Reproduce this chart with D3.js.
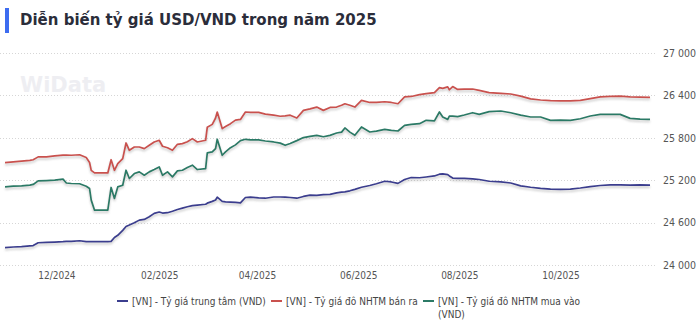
<!DOCTYPE html>
<html>
<head>
<meta charset="utf-8">
<script src="https://cdn.jsdelivr.net/npm/d3@7"></script>
<style>
    body { margin: 0; background: #fff; }
    svg { display: block; }
</style>
</head>
<body>
<div id="chart"></div>
<script>
/****************************/
/******data sets & vars******/
/****************************/
var dates = [
    "2024-10-31","2024-11-05","2024-11-10","2024-11-15","2024-11-17","2024-11-20","2024-11-25","2024-11-30","2024-12-05","2024-12-07",
    "2024-12-10","2024-12-15","2024-12-19","2024-12-21","2024-12-22","2024-12-24","2024-12-27","2025-01-01","2025-01-03","2025-01-05",
    "2025-01-07","2025-01-10","2025-01-12","2025-01-14","2025-01-17","2025-01-20","2025-01-23","2025-01-26","2025-01-29","2025-02-01",
    "2025-02-03","2025-02-06","2025-02-09","2025-02-12","2025-02-15","2025-02-18","2025-02-21","2025-02-24","2025-03-01","2025-03-02",
    "2025-03-05","2025-03-07","2025-03-08","2025-03-11","2025-03-13","2025-03-16","2025-03-19","2025-03-22","2025-03-25","2025-03-28",
    "2025-04-02","2025-04-06","2025-04-11","2025-04-15","2025-04-18","2025-04-21","2025-04-25","2025-04-29","2025-05-03","2025-05-07",
    "2025-05-11","2025-05-15","2025-05-19","2025-05-22","2025-05-24","2025-05-27","2025-05-30","2025-06-03","2025-06-08","2025-06-12",
    "2025-06-17","2025-06-21","2025-06-25","2025-06-29","2025-07-03","2025-07-08","2025-07-12","2025-07-17","2025-07-20","2025-07-22",
    "2025-07-25","2025-07-26","2025-07-28","2025-07-31","2025-08-04","2025-08-09","2025-08-13","2025-08-19","2025-08-26","2025-09-01",
    "2025-09-07","2025-09-13","2025-09-19","2025-09-25","2025-10-01","2025-10-07","2025-10-13","2025-10-19","2025-10-25","2025-10-31",
    "2025-11-06","2025-11-12","2025-11-18","2025-11-24"
];
// ty gia trung tam
var centralRate = [
    24245,24255,24260,24270,24275,24315,24320,24325,24330,24335,
    24335,24343,24330,24330,24330,24330,24330,24330,24335,24390,
    24420,24490,24545,24565,24597,24635,24645,24682,24730,24750,
    24735,24740,24760,24785,24805,24824,24840,24847,24860,24875,
    24900,24920,24960,24900,24894,24890,24885,24880,24955,24960,
    24950,24945,24962,24962,24960,24955,24945,24970,24988,24985,
    24995,25000,25020,25030,25035,25050,25070,25100,25125,25150,
    25185,25175,25155,25210,25238,25235,25245,25260,25285,25290,
    25280,25260,25230,25225,25225,25220,25210,25185,25175,25160,
    25120,25100,25085,25075,25070,25075,25090,25110,25125,25135,
    25135,25130,25135,25130
];
// NHTM ban ra
var sellRate = [
    25450,25460,25470,25480,25490,25530,25530,25545,25555,25555,
    25553,25560,25520,25450,25340,25303,25303,25303,25490,25340,
    25435,25506,25727,25623,25670,25670,25647,25694,25741,25765,
    25680,25660,25623,25708,25718,25745,25788,25741,25765,25950,
    25990,26080,26165,25930,25960,26000,26050,26060,26165,26160,
    26160,26135,26120,26105,26110,26120,26080,26188,26210,26235,
    26188,26230,26235,26260,26282,26260,26235,26330,26300,26300,
    26310,26300,26282,26380,26385,26410,26424,26440,26510,26500,
    26520,26480,26525,26485,26490,26490,26471,26440,26428,26420,
    26390,26350,26335,26325,26322,26322,26330,26355,26378,26385,
    26390,26380,26375,26372
];
// NHTM mua vao
var buyRate = [
    25105,25115,25120,25130,25140,25190,25195,25200,25215,25160,
    25153,25150,25115,25082,24918,24776,24776,24776,25097,24941,
    25105,25129,25341,25224,25294,25318,25270,25318,25351,25388,
    25270,25318,25247,25332,25341,25379,25412,25351,25365,25586,
    25600,25647,25780,25553,25600,25660,25700,25760,25779,25770,
    25770,25755,25741,25725,25694,25720,25760,25803,25820,25835,
    25815,25835,25868,25880,25940,25880,25835,25953,25882,25895,
    25920,25905,25896,25976,25990,26000,26047,26040,26165,26094,
    26061,26108,26108,26100,26122,26155,26132,26170,26179,26155,
    26120,26094,26094,26047,26050,26047,26070,26108,26132,26132,
    26132,26075,26065,26061
];
var seriesNames = [
    "[VN] - Tỷ giá trung tâm (VND)",
    "[VN] - Tỷ giá đô NHTM bán ra",
    "[VN] - Tỷ giá đô NHTM mua vào (VND)"
];
var seriesColors = ["#3b3e8e", "#c9514e", "#2c7a66"];
var xTickDates = ["2024-12-01","2025-02-01","2025-04-01","2025-06-01","2025-08-01","2025-10-01"];
var yTicks = [24000, 24600, 25200, 25800, 26400, 27000];

var w = 700;
var h = 330;
var plotLeft = 5;
var plotRight = 650;
var gridRight = 655;
var plotTop = 53;
var plotBottom = 265;
var font = "'DejaVu Sans Condensed', 'DejaVu Sans', sans-serif";

var parse = d3.timeParse("%Y-%m-%d");
var series = [centralRate, sellRate, buyRate].map(function(vals, k) {
    return {
        name: seriesNames[k],
        color: seriesColors[k],
        values: vals.map(function(v, i) { return { date: parse(dates[i]), value: v }; })
    };
});

var svg = d3.select("#chart")
    .append("svg")
    .attr("width", w)
    .attr("height", h);

var defs = svg.append("defs");
var shadow = defs.append("filter")
    .attr("id", "shadow")
    .attr("x", "-5%").attr("y", "-20%")
    .attr("width", "110%").attr("height", "150%");
shadow.append("feDropShadow")
    .attr("dx", 0)
    .attr("dy", 2)
    .attr("stdDeviation", 1.3)
    .attr("flood-color", "#888")
    .attr("flood-opacity", 0.45);

/****************************/
/***********title************/
/****************************/
svg.append("rect")
    .attr("x", 5).attr("y", 8)
    .attr("width", 4).attr("height", 25)
    .attr("fill", "#3d6cf0");
svg.append("text")
    .attr("x", 20).attr("y", 25)
    .attr("font-family", "'DejaVu Sans', sans-serif")
    .attr("font-weight", "bold")
    .attr("font-size", "15px")
    .attr("fill", "#2b2d3a")
    .text("Diễn biến tỷ giá USD/VND trong năm 2025");

// watermark
svg.append("text")
    .attr("x", 20).attr("y", 92)
    .attr("font-family", "'DejaVu Sans', sans-serif")
    .attr("font-weight", "bold")
    .attr("font-size", "21px")
    .attr("fill", "#eeeef2")
    .text("WiData");

/****************************/
/**********scales************/
/****************************/
var xScale = d3.scaleTime()
    .domain([parse(dates[0]), parse(dates[dates.length - 1])])
    .range([plotLeft, plotRight]);
var yScale = d3.scaleLinear()
    .domain([24000, 27000])
    .range([plotBottom, plotTop]);

var locale = d3.formatLocale({ decimal: ".", thousands: " ", grouping: [3], currency: ["", ""] });
var yFormat = locale.format(",");

// grid
svg.append("g")
    .selectAll("line")
    .data(yTicks)
    .enter()
    .append("line")
    .attr("x1", 0)
    .attr("x2", gridRight)
    .attr("y1", function(d) { return Math.round(yScale(d)) + 0.5; })
    .attr("y2", function(d) { return Math.round(yScale(d)) + 0.5; })
    .attr("stroke", "#d6d6d6")
    .attr("stroke-dasharray", "1,2");

var yAxis = d3.axisRight(yScale).tickValues(yTicks).tickSize(0).tickPadding(8).tickFormat(yFormat);
var yG = svg.append("g")
    .attr("transform", "translate(" + gridRight + ",0)")
    .call(yAxis);
yG.select(".domain").remove();
yG.selectAll("text")
    .attr("font-family", font)
    .attr("font-size", "10.5px")
    .attr("fill", "#555");

var xAxis = d3.axisBottom(xScale)
    .tickValues(xTickDates.map(parse))
    .tickSize(0)
    .tickPadding(7)
    .tickFormat(d3.timeFormat("%m/%Y"));
var xG = svg.append("g")
    .attr("transform", "translate(0," + plotBottom + ")")
    .call(xAxis);
xG.select(".domain").remove();
xG.selectAll("text")
    .attr("font-family", font)
    .attr("font-size", "10px")
    .attr("fill", "#555");

/****************************/
/***********lines************/
/****************************/
var line = d3.line()
    .x(function(d) { return xScale(d.date); })
    .y(function(d) { return yScale(d.value); });

svg.append("g")
    .selectAll("path")
    .data(series)
    .enter()
    .append("path")
    .attr("d", function(d) { return line(d.values); })
    .attr("fill", "none")
    .attr("stroke", function(d) { return d.color; })
    .attr("stroke-width", 1.7)
    .attr("stroke-linejoin", "round")
    .attr("filter", "url(#shadow)");

/****************************/
/***********legend***********/
/****************************/
var legendX = [117, 271, 423];
var legend = svg.append("g")
    .selectAll("g")
    .data(series)
    .enter()
    .append("g")
    .attr("transform", function(d, i) { return "translate(" + legendX[i] + ",301)"; });
legend.append("line")
    .attr("x1", 0).attr("x2", 11)
    .attr("y1", 0).attr("y2", 0)
    .attr("stroke", function(d) { return d.color; })
    .attr("stroke-width", 2);
legend.append("text")
    .attr("font-family", font)
    .attr("font-size", "10px")
    .attr("fill", "#444")
    .attr("dy", "0.35em")
    .each(function(d, i) {
        var t = d3.select(this);
        if (i === 2) {
            t.append("tspan").attr("x", 15).text("[VN] - Tỷ giá đô NHTM mua vào");
            t.append("tspan").attr("x", 15).attr("dy", "1.35em").text("(VND)");
        } else {
            t.attr("x", 15).text(d.name);
        }
    });
</script>
</body>
</html>
